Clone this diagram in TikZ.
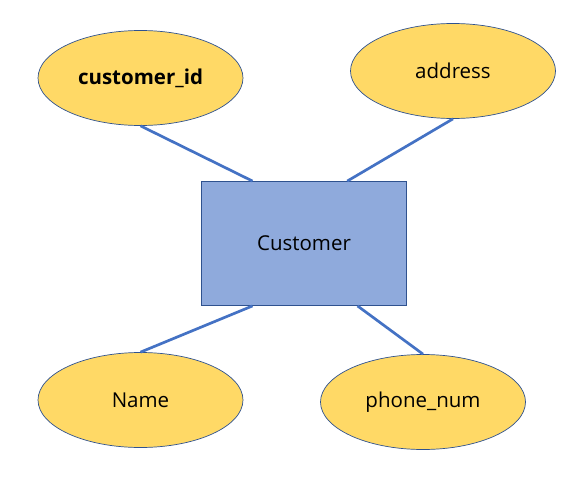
\documentclass[tikz,border=0pt]{standalone}
\usepackage{fontspec}
\setmainfont{Open Sans}
\usetikzlibrary{shapes.geometric,calc}
\definecolor{attrfill}{HTML}{FFD966}
\definecolor{edgeblue}{HTML}{2F528F}
\definecolor{entfill}{HTML}{8FAADC}
\definecolor{linkblue}{HTML}{4472C4}
\begin{document}
\begin{tikzpicture}[x=1pt,y=-1pt,
  attr/.style={ellipse,draw=edgeblue,line width=0.7pt,fill=attrfill,inner sep=0pt,
    minimum width=205pt,minimum height=95pt,font=\fontsize{20.5}{24}\selectfont},
  entity/.style={rectangle,draw=edgeblue,line width=0.8pt,fill=entfill,inner sep=0pt,
    minimum width=205pt,minimum height=124pt,font=\fontsize{20.5}{24}\selectfont},
  link/.style={draw=linkblue,line width=2.7pt}]
\useasboundingbox (0,0) rectangle (575,500);
\node[entity] (cust) at (304,243.5) {Customer};
\node[attr] (cid) at (140.5,78) {\textbf{customer\_id}};
\node[attr] (addr) at (453,71) {address};
\node[attr] (name) at (140.5,400) {Name};
\node[attr] (phone) at (423,402) {\raisebox{-2pt}{phone\_num}};
\coordinate (t1) at ($(cust.north west)!0.25!(cust.north east)$);
\coordinate (t2) at ($(cust.north west)!0.71!(cust.north east)$);
\coordinate (b1) at ($(cust.south west)!0.25!(cust.south east)$);
\coordinate (b2) at ($(cust.south west)!0.76!(cust.south east)$);
\draw[link] (cid.south) -- (t1);
\draw[link] (addr.south) -- (t2);
\draw[link] (b1) -- (name.north);
\draw[link] (b2) -- (phone.north);
\end{tikzpicture}
\end{document}
